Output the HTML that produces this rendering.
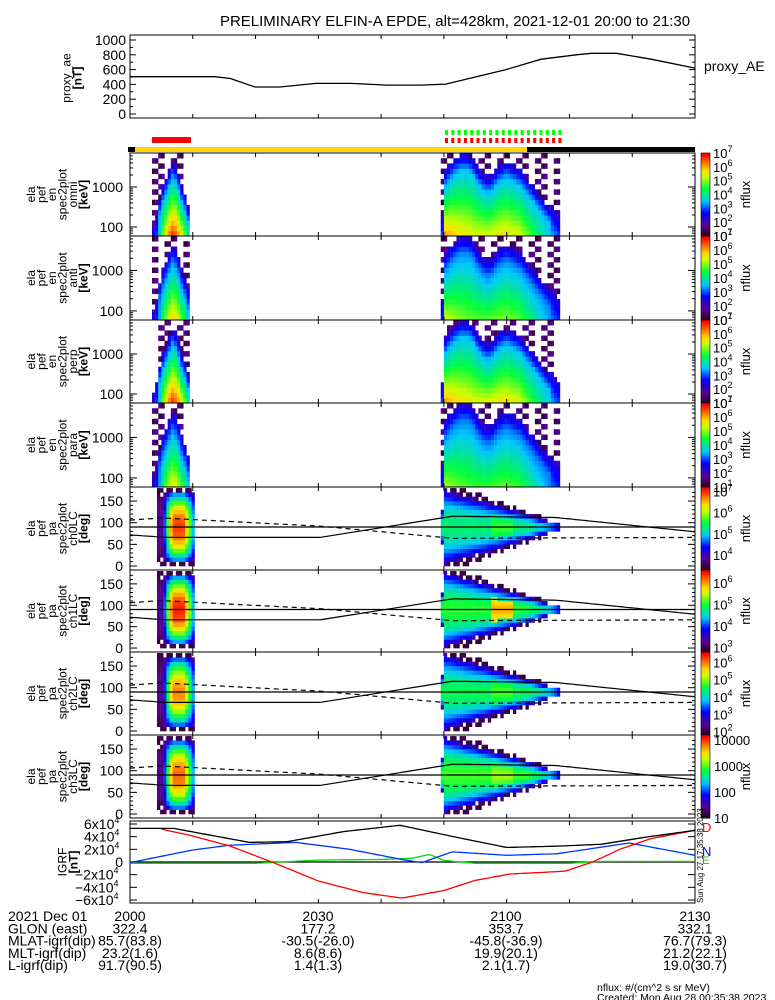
<!DOCTYPE html>
<html><head><meta charset="utf-8"><style>
html,body{margin:0;padding:0;background:#fff;}
svg{display:block;font-family:"Liberation Sans",sans-serif;}
</style></head><body>
<svg id="c" width="775" height="1000" viewBox="0 0 775 1000" xmlns="http://www.w3.org/2000/svg">
<rect width="775" height="1000" fill="#fff"/>
<text x="455" y="26" font-size="15" text-anchor="middle">PRELIMINARY ELFIN-A EPDE, alt=428km, 2021-12-01 20:00 to 21:30</text>
<g id="g"></g>
</svg>
<script>
// ---- data ----
const aeTimes=[0,13.5,16,19.9,23.9,29.6,35.2,40.8,46.3,50.3,55,59.9,65.5,71.1,73.5,77.5,83,90];
const aeValues=[504,504,480,365,365,414,414,390,390,404,500,600,740,800,820,820,740,620];

const igrfTimes=[0,7,13,19,25,34,43,52,60,68,75,82,90];
const igrfTotal=[5.3,5.3,4.2,3.1,3.2,4.8,5.8,3.9,2.3,2.5,2.8,3.9,5.0];
const redTimes=[5,10,16,22.6,30,37,43.3,50,55,60.5,69.3,73.7,78,83,90];
const igrfD=[5.2,4.1,2.5,0,-3.0,-4.8,-5.7,-4.5,-2.9,-1.9,-1.45,0,2.0,3.7,5.0];
const blueTimes=[0,5,10,15.9,26.4,35,43.3,46.5,51.3,60,68,79.5,90];
const igrfN=[-0.1,0.9,1.9,2.65,3.1,2.0,0.4,-0.1,1.6,1.06,1.3,3.0,1.06];
const greenTimes=[0,20,30,40,45,47.7,50,55,70,75,90];
const igrfZ=[-0.2,-0.2,0.3,0.4,0.6,1.2,0.25,-0.2,-0.2,0.1,0.1];

const lcTimes=[0,5.6,30.3,51.4,67.8,90];
const lcSolid=[72,66,66,115,112,79];
const dashTimes=[0,5,30.3,51.4,90];
const lcDashed=[106,111,92,64,66];

// spectrogram columns (minutes) and per-column log flux at 63 keV / log energy of 10^3.5 level
const pass1Times=[3.5,4,4.5,5,5.5,6,6.5,7,7.5,8,8.5,9];
const pass1Low=[2.5,3.0,3.8,5.0,5.8,6.4,6.8,6.6,6.2,5.6,5.0,4.2];
const pass1E50=[2.0,2.1,2.3,2.6,2.8,3.0,3.2,3.1,2.9,2.6,2.4,2.1];
const pass2Times=[49.5,50,50.5,51,51.5,52,52.5,53,53.5,54,54.5,55,55.5,56,56.5,57,57.5,58,58.5,59,59.5,60,60.5,61,61.5,62,62.5,63,63.5,64,64.5,65,65.5,66,66.5,67,67.5,68];
const pass2Low=[3.0,6.2,6.1,6.0,5.9,5.8,5.7,5.7,5.6,5.6,5.5,5.5,5.5,5.5,5.5,5.5,5.6,5.6,5.7,5.7,5.7,5.7,5.6,5.6,5.5,5.4,5.2,5.0,4.8,4.6,4.4,4.2,4.0,3.8,3.6,3.4,3.2,3.0];
const pass2E50=[2.8,3.0,3.1,3.2,3.3,3.35,3.4,3.4,3.4,3.35,3.25,3.1,3.0,2.9,2.85,2.85,2.9,3.0,3.1,3.15,3.2,3.2,3.15,3.1,3.05,3.0,2.9,2.8,2.7,2.6,2.5,2.4,2.3,2.2,2.1,2.05,2.0,1.95];
const specScale=[1.0,0.8,1.0,0.75];   // per-panel flux scaling (omni, anti, perp, para)
const paPeak1=[7.0,6.5,6.0,3.9];      // pass-1 pitch-angle peak log flux per panel
const paPeak2=[5.4,5.1,4.5,3.0];      // pass-2 pitch-angle peak log flux per panel
const paBoost=[0.3,0.9,0.3,0.2];      // enhancement near 21:00

// ---- helpers ----
const NS="http://www.w3.org/2000/svg";
const G=document.getElementById('g');
const X0=130,X1=695;
const xOf=t=>X0+t*(X1-X0)/90;
function mk(tag,at,parent){const e=document.createElementNS(NS,tag);for(const k in at)e.setAttribute(k,at[k]);(parent||G).appendChild(e);return e;}
function interp(ts,vs,t){if(t<=ts[0])return vs[0];for(let i=1;i<ts.length;i++){if(t<=ts[i]){const f=(t-ts[i-1])/(ts[i]-ts[i-1]);return vs[i-1]+f*(vs[i]-vs[i-1]);}}return vs[vs.length-1];}
function cmap(f){f=Math.max(0,Math.min(1,f));
 const st=[[0,[40,0,40]],[0.12,[90,0,140]],[0.28,[0,0,255]],[0.42,[0,200,255]],[0.58,[0,255,60]],[0.72,[200,255,0]],[0.8,[255,220,0]],[0.9,[255,110,0]],[1,[255,0,0]]];
 for(let i=1;i<st.length;i++){if(f<=st[i][0]){const a=st[i-1],b=st[i],u=(f-a[0])/(b[0]-a[0]);return 'rgb('+a[1].map((c,j)=>Math.round(c+u*(b[1][j]-c))).join(',')+')';}}return 'rgb(255,0,0)';}
function lineXY(pts,attrs,name){const p=mk('polyline',Object.assign({points:pts.map(p=>p[0].toFixed(1)+','+p[1].toFixed(1)).join(' '),fill:'none'},attrs));
 
 return p;}
function txt(x,y,s,sz,anchor,name,extra){const e=mk('text',Object.assign({x:x,y:y,'font-size':sz||13,'text-anchor':anchor||'end'},extra||{}));e.textContent=s;
 
 return e;}
function pow10(x,y,exp,sz,name,pre){const e=mk('text',{x:x,y:y,'font-size':sz||13,'text-anchor':'start'});
 
 
 const a=document.createElementNS(NS,'tspan');a.textContent=pre||'10';e.appendChild(a);
 const b=document.createElementNS(NS,'tspan');b.setAttribute('dy','-6');b.setAttribute('font-size','9');b.textContent=exp;e.appendChild(b);return e;}
function frame(top,bot,name){const r=mk('rect',{x:X0,y:top,width:X1-X0,height:bot-top,fill:'none',stroke:'#000','stroke-width':1});
 
 
 for(let t=10;t<90;t+=10){mk('line',{x1:xOf(t),x2:xOf(t),y1:bot,y2:bot-4,stroke:'#000'});mk('line',{x1:xOf(t),x2:xOf(t),y1:top,y2:top+4,stroke:'#000'});}}
function ylabel(cx,cy,lines,name,sp){sp=sp||10.5;const e=mk('text',{transform:'translate('+cx+','+cy+') rotate(-90)','font-size':12,'text-anchor':'middle'});
 
 
 lines.forEach((l,i)=>{const s=document.createElementNS(NS,'tspan');s.setAttribute('x',0);s.setAttribute('dy',i==0?-(lines.length-1)*sp/2+4:sp);if(l.startsWith('['))s.setAttribute('font-weight','bold');s.textContent=l;e.appendChild(s);});}

// ---- proxy AE ----
(function(){const top=35,bot=118,y0=114,y1=40;const yv=v=>y0-(v/1000)*(y0-y1);
 frame(top,bot,'proxy-ae-panel');
 [0,200,400,600,800,1000].forEach(v=>{txt(126,yv(v)+5,String(v),14,'end','ae-tick-label');mk('line',{x1:X0,x2:X0+6,y1:yv(v),y2:yv(v),stroke:'#000'});mk('line',{x1:X1,x2:X1-6,y1:yv(v),y2:yv(v),stroke:'#000'});});
 for(let v=100;v<1000;v+=200){mk('line',{x1:X0,x2:X0+3,y1:yv(v),y2:yv(v),stroke:'#000'});mk('line',{x1:X1,x2:X1-3,y1:yv(v),y2:yv(v),stroke:'#000'});}
 lineXY(aeTimes.map((t,i)=>[xOf(t),yv(aeValues[i])]),{stroke:'#000','stroke-width':1.3},'proxy-ae-line');
 txt(704,71,'proxy_AE',14,'start','proxy-ae-legend');
 ylabel(72,78,['proxy_ae','[nT]'],'proxy-ae-y-title',11);
})();

// ---- indicator bars ----
(function(){
 const r=mk('rect',{x:152,y:137,width:39,height:6,fill:'#f00'});
 for(let x=445;x<564;x+=6.3){mk('rect',{x:x,y:130,width:3,height:5,fill:'#0f0'});mk('rect',{x:x,y:138,width:3,height:5,fill:'#f00'});}
 mk('rect',{x:128,y:147,width:X1-128,height:5,fill:'#000'});
 const y=mk('rect',{x:135,y:147,width:527-135,height:5,fill:'#ffd700'});
})();

// ---- spectrogram panels ----
const tops=[153,236,320,403,487,570,652,735],bots=[236,320,403,487,570,652,735,818];
const specNames=[['ela','pef','en','spec2plot','omni','[keV]'],['ela','pef','en','spec2plot','anti','[keV]'],['ela','pef','en','spec2plot','perp','[keV]'],['ela','pef','en','spec2plot','para','[keV]']];
const paNames=[['ela','pef','pa','spec2plot','ch0LC','[deg]'],['ela','pef','pa','spec2plot','ch1LC','[deg]'],['ela','pef','pa','spec2plot','ch2LC','[deg]'],['ela','pef','pa','spec2plot','ch3LC','[deg]']];
const cbRanges=[[1,7],[1,7],[1,7],[1,7],[3.3,7.2],[2.8,6.6],[1.8,6.6],[1,4.2]];
function colorbar(k){const top=tops[k],bot=bots[k],r=cbRanges[k];const n=40;
 for(let i=0;i<n;i++){mk('rect',{x:701,y:bot-(i+1)*(bot-top)/n,width:9,height:(bot-top)/n+0.5,fill:cmap(i/(n-1))});}
 const f=mk('rect',{x:701,y:top,width:9,height:bot-top,fill:'none',stroke:'#000','stroke-width':0.6});
 
 for(let e=Math.ceil(r[0]);e<=Math.floor(r[1]);e++){const y=bot-(e-r[0])/(r[1]-r[0])*(bot-top);
  if(k==7){txt(714,y+5,String(Math.pow(10,e)),13,'start','colorbar-tick');}else pow10(713,y+5,String(e),13,'colorbar-tick');}
 const t=mk('text',{transform:'translate(750,'+((top+bot)/2)+') rotate(-90)','font-size':13,'text-anchor':'middle'});t.textContent='nflux';
 }

function specPanel(k){const top=tops[k],bot=bots[k];const h=bot-top;const dec=40*h/83;const lb=1.775,lt=3.825;
 const yE=le=>bot-(le-lb)*dec;const r=cbRanges[k];const sc=specScale[k];
 const nb=16;
 function col(t,w,low,e50,seed){for(let b=0;b<nb;b++){const le=lb+(b+0.5)*(lt-lb)/nb;
   let v;
   if(low<=3.5){v=low-(le-lb)*1.5;}
   else if(le<=e50){v=low-(le-lb)*(low-3.5)/(e50-lb);}
   else{v=3.5-(le-e50)*3.2;}
   v=3.5+(v-3.5)*sc-(1-sc)*1.2;
   if(v<2.2){if(((seed*7+b*3+k*2+(b*b)%4)%6)>1)continue;v=1.2+((seed+b)%3)*0.3;}
   const y1=bot-(b+1)*h/nb,y0=bot-b*h/nb;mk('rect',{x:xOf(t),y:y1,width:w,height:y0-y1+0.3,fill:cmap((v-r[0])/(r[1]-r[0]))});}}
 pass1Times.forEach((t,i)=>col(t,3.3,pass1Low[i],pass1E50[i],i));
 pass2Times.forEach((t,i)=>col(t,3.3,pass2Low[i],pass2E50[i],i));
 frame(top,bot,'spectrogram-panel-'+(k+1));
 [[2,'100'],[3,'1000']].forEach(a=>{const y=yE(a[0]);txt(123,y+5,a[1],14,'end','energy-tick-label');mk('line',{x1:X0,x2:X0+7,y1:y,y2:y,stroke:'#000'});mk('line',{x1:X1,x2:X1-7,y1:y,y2:y,stroke:'#000'});});
 for(let d=1;d<4;d++)for(let m=2;m<10;m++){const le=d+Math.log10(m);if(le<lb||le>3.82)continue;const y=yE(le);mk('line',{x1:X0,x2:X0+3,y1:y,y2:y,stroke:'#000'});mk('line',{x1:X1,x2:X1-3,y1:y,y2:y,stroke:'#000'});}
 ylabel(57,(top+bot)/2,specNames[k],'spectrogram-y-title-'+(k+1));
 colorbar(k);}
[0,1,2,3].forEach(specPanel);

function paPanel(j){const k=j+4;const top=tops[k],bot=bots[k];const h=bot-top;const s=h/83;
 const yP=p=>bot-4*s-p*0.433*s;const r=cbRanges[k];const span=r[1]-r[0];
 function col(t,w,peak,half,seed,boost){for(let b=0;b<18;b++){const p=b*10+5;const d=Math.abs(p-90)/Math.max(half,5);
   if(d>1.1){continue;}let v=peak-d*d*(peak-r[0])*0.85+(d<0.45?boost:0);
   if(d>0.9||v<r[0]+0.25){if(((seed*5+b)%3)==0)continue;v=r[0]+0.15;}
   mk('rect',{x:xOf(t),y:yP(p+5),width:w,height:10*0.433*s+0.3,fill:cmap((v-r[0])/span)});}}
 pass1Times.forEach((t,i)=>{const f=Math.max(0,(pass1Low[i]-3)/3.8);col(t+0.8,3.3,r[0]+(paPeak1[j]-r[0])*Math.min(1,f+0.15),90,i,0);});
 pass2Times.forEach((t,i)=>{const half=i==0?40:Math.max(8,95-(t-50)*4.8);const bst=(t>=57.5&&t<=60.5)?paBoost[j]:0;col(t,3.3,paPeak2[j]-(t>63?(t-63)*0.15:0),half,i,bst);});
 frame(top,bot,'pitch-angle-panel-'+(j+1));
 [0,50,100,150].forEach(p=>{const y=yP(p);txt(123,y+5,String(p),14,'end','pitch-angle-tick-label');mk('line',{x1:X0,x2:X0+7,y1:y,y2:y,stroke:'#000'});mk('line',{x1:X1,x2:X1-7,y1:y,y2:y,stroke:'#000'});});
 for(let p=10;p<180;p+=10){if(p%50==0)continue;const y=yP(p);mk('line',{x1:X0,x2:X0+3,y1:y,y2:y,stroke:'#000'});mk('line',{x1:X1,x2:X1-3,y1:y,y2:y,stroke:'#000'});}
 const ts=[];for(let t=0;t<=90;t+=0.5)ts.push(t);
 lineXY([[X0,yP(90)],[X1,yP(90)]],{stroke:'#000','stroke-width':1.2},'ninety-degree-line');
 lineXY(ts.map(t=>[xOf(t),yP(interp(lcTimes,lcSolid,t))]),{stroke:'#000','stroke-width':1.2},'loss-cone-line');
 lineXY(ts.map(t=>[xOf(t),yP(interp(dashTimes,lcDashed,t))]),{stroke:'#000','stroke-width':1.2,'stroke-dasharray':'5,4'},'anti-loss-cone-line');
 ylabel(57,(top+bot)/2,paNames[j],'pitch-angle-y-title-'+(j+1));
 colorbar(k);}
[0,1,2,3].forEach(paPanel);

// ---- IGRF ----
(function(){const top=821,bot=903;const y0=862,k=38/6;const yv=v=>y0-v*k;
 frame(top,bot,'igrf-panel');
 [6,4,2,0,-2,-4,-6].forEach(v=>{const y=yv(v);mk('line',{x1:X0,x2:X0+7,y1:y,y2:y,stroke:'#000'});mk('line',{x1:X1,x2:X1-7,y1:y,y2:y,stroke:'#000'});
  if(v==0)txt(123,y+5,'0',14,'end','igrf-tick-label');else pow10(v<0?75:84,y+5,'4',14,'igrf-tick-label',(v<0?'\u2212':'')+Math.abs(v)+'x10');});
 const ts=[];for(let t=0;t<=90;t+=0.5)ts.push(t);
 lineXY([[X0,y0],[X1,y0]],{stroke:'#000','stroke-width':1.2},'igrf-zero-line');
 lineXY(ts.map(t=>[xOf(t),yv(interp(greenTimes,igrfZ,t))]),{stroke:'#0d0','stroke-width':1.3},'igrf-z-line');
 lineXY(ts.map(t=>[xOf(t),yv(interp(blueTimes,igrfN,t))]),{stroke:'#0033ff','stroke-width':1.3},'igrf-n-line');
 lineXY(ts.filter(t=>t>=5).map(t=>[xOf(t),yv(interp(redTimes,igrfD,t))]),{stroke:'#f00','stroke-width':1.3},'igrf-d-line');
 lineXY(ts.map(t=>[xOf(t),yv(interp(igrfTimes,igrfTotal,t))]),{stroke:'#000','stroke-width':1.3},'igrf-total-line');
 txt(702,832,'D',13,'start','igrf-d-legend',{fill:'#f00'});
 txt(702,856,'N',13,'start','igrf-n-legend',{fill:'#00f'});
 txt(702,864,'E',11,'start','igrf-e-legend',{fill:'#0c0'});
 ylabel(68,862,['IGRF','[nT]'],'igrf-y-title',11);
 const st=mk('text',{transform:'translate(703,903) rotate(-90)','font-size':8},null);st.textContent='Sun Aug 27 17:35:38 2023';
 
})();

// ---- bottom annotation ----
(function(){const rows=[['2021 Dec 01','2000','2030','2100','2130'],['GLON (east)','322.4','177.2','353.7','332.1'],['MLAT-igrf(dip)','85.7(83.8)','-30.5(-26.0)','-45.8(-36.9)','76.7(79.3)'],['MLT-igrf(dip)','23.2(1.6)','8.6(8.6)','19.9(20.1)','21.2(22.1)'],['L-igrf(dip)','91.7(90.5)','1.4(1.3)','2.1(1.7)','19.0(30.7)']];
 const cx=[130,318,506,695];
 rows.forEach((r,i)=>{const y=921+i*12.3;txt(8,y,r[0],14,'start','x-annotation-label');
  r.slice(1).forEach((v,j)=>txt(cx[j],y,v,14,'middle','x-annotation-value'));});
 txt(597,991,'nflux: #/(cm^2 s sr MeV)',10.5,'start','units-note');
 txt(597,1001,'Created: Mon Aug 28 00:35:38 2023',10.5,'start','created-note');
})();
</script>
</body></html>
